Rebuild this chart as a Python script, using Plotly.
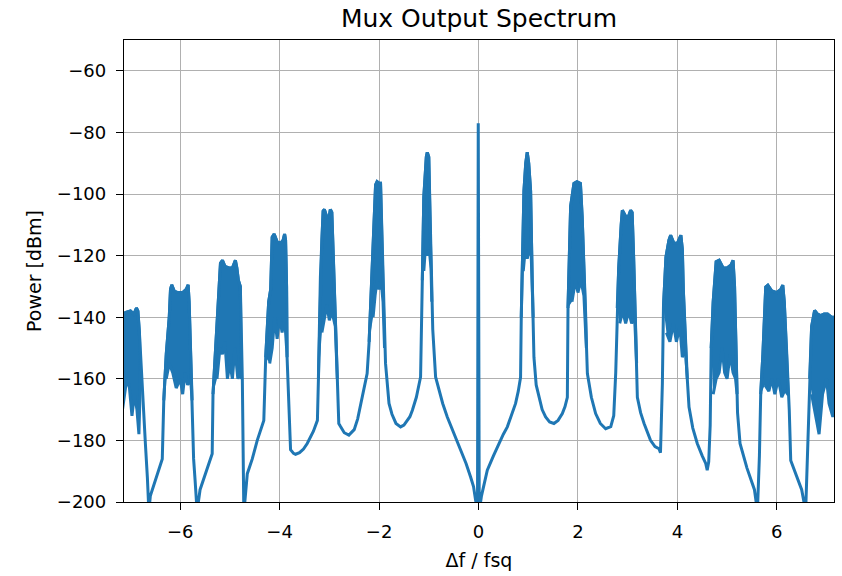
import plotly.graph_objects as go

# ---- Data ----
# Outline of the spectrum (upper envelope through the noisy lobes), left to right
spec_f = [
    -7.16, -7.10, -7.00, -6.93, -6.88, -6.85, -6.82, -6.78, -6.74, -6.70, -6.66, -6.63,
    -6.60, -6.50, -6.40, -6.36, -6.33, -6.28, -6.22, -6.195, -6.17, -6.12, -6.05, -5.95, -5.88, -5.84,
    -5.82, -5.79, -5.76, -5.73, -5.70, -5.66,
    -5.60, -5.50, -5.40, -5.356, -5.34, -5.29, -5.256, -5.22, -5.19, -5.15, -5.10, -5.02, -4.95, -4.89,
    -4.86, -4.83, -4.79, -4.75, -4.72, -4.70,
    -4.65, -4.55, -4.45, -4.318, -4.28, -4.22, -4.18, -4.15, -4.11, -4.05, -3.98, -3.93, -3.90, -3.88,
    -3.86, -3.85, -3.80, -3.78,
    -3.72, -3.68, -3.60, -3.52, -3.445, -3.32, -3.24, -3.22, -3.18, -3.15, -3.125, -3.10, -3.05, -3.00, -2.98, -2.95,
    -2.92, -2.875, -2.84, -2.81,
    -2.775, -2.70, -2.607, -2.50, -2.43, -2.37, -2.30, -2.24, -2.20, -2.14, -2.10, -2.07, -2.04, -2.00, -1.97,
    -1.95, -1.92, -1.87, -1.80,
    -1.74, -1.66, -1.567, -1.50, -1.45, -1.38, -1.33, -1.25, -1.165, -1.13, -1.10, -1.05, -1.03, -1.00,
    -0.98, -0.964, -0.92, -0.863,
    -0.80, -0.72, -0.628, -0.50, -0.36, -0.25, -0.159, -0.10, -0.058, -0.035,
    -0.02, -0.005,
    0.015, 0.06, 0.177, 0.30, 0.378, 0.50, 0.58, 0.70, 0.746, 0.80, 0.846,
    0.86, 0.88, 0.914, 0.95, 0.98, 1.01, 1.048, 1.08, 1.115,
    1.16, 1.215, 1.28, 1.35, 1.43, 1.517, 1.60, 1.686, 1.74, 1.787,
    1.80, 1.853, 1.92, 1.98, 2.05, 2.085, 2.155, 2.19,
    2.27, 2.356, 2.45, 2.557, 2.66, 2.72,
    2.76, 2.79, 2.82, 2.87, 2.893, 2.95, 3.00, 3.06, 3.09, 3.12, 3.16, 3.195,
    3.26, 3.33, 3.46, 3.55, 3.63, 3.66,
    3.698, 3.72, 3.77, 3.83, 3.865, 3.93, 4.00, 4.07, 4.10, 4.12, 4.18, 4.234,
    4.31, 4.40, 4.50, 4.57, 4.60, 4.63,
    4.66, 4.68, 4.72, 4.78, 4.84, 4.92, 5.00, 5.08, 5.12, 5.15, 5.18, 5.21, 5.26,
    5.40, 5.55, 5.61,
    5.65, 5.676, 5.72, 5.777, 5.82, 5.90, 6.00, 6.08, 6.12, 6.15, 6.20, 6.25, 6.28,
    6.40, 6.50, 6.58,
    6.62, 6.66, 6.70, 6.76, 6.82, 6.88, 6.95, 7.02, 7.10, 7.18,
]
spec_p = [
    -140, -138.5, -138, -139, -137, -138, -145, -158, -172, -181, -192, -203,
    -198, -193, -188, -186, -167, -152, -140, -131, -129.5, -131.5, -132, -132, -131, -129.5,
    -135, -152, -167, -186, -193, -203,
    -196, -191, -186.5, -184.3, -165, -150, -143, -130, -122.5, -121.5, -123.5, -124, -124, -121.5,
    -124, -128, -130, -160, -203, -200,
    -190.8, -186, -180, -173.5, -153, -135, -131, -114, -113, -115.5, -116, -115, -113, -115,
    -130, -153, -172, -183,
    -184.2, -184.5, -184, -182.8, -181, -177, -173.5, -160, -127, -115, -105.5, -105, -107.5, -107, -105, -106,
    -120, -142, -160, -174.5,
    -175.5, -177.5, -178.3, -176.5, -173, -168, -163, -158.3, -148, -125, -108, -97, -96, -96.5, -96.5,
    -108, -125, -155, -168,
    -171.5, -174.5, -175.6, -175, -174, -172.3, -170.2, -166, -159.4, -128, -101, -88, -86.5, -88,
    -100, -117, -144, -159.4,
    -163.5, -168, -172.4, -177.5, -183.2, -187.5, -191.9, -195, -199.4, -203,
    -203, -77,
    -203, -198, -189.7, -185, -182.1, -178, -175.6, -170.5, -168, -164, -159.5,
    -140, -128, -99, -90, -86.4, -90, -99, -128, -153,
    -162, -166, -170, -172.4, -174, -174.5, -173.5, -171.3, -169, -166,
    -137, -104, -96.6, -96, -96.6, -107.4, -139, -158.3,
    -166, -171.3, -174.5, -176.2, -175.5, -172,
    -158, -137, -124, -110, -105.3, -107, -108, -105.3, -106, -120.5, -144.3, -166,
    -171, -174.5, -180, -182, -182.7, -184,
    -161.6, -136.7, -120.5, -115, -113.4, -116, -116, -113.4, -118, -131.3, -155, -169.2,
    -176, -181, -185, -187.5, -189.7, -187,
    -175, -150, -135, -122, -121.5, -124, -124, -123, -121.5, -130, -150, -171, -181,
    -189, -196, -203,
    -185, -165, -152, -130.2, -129.6, -131.5, -132, -131, -129.6, -135, -152, -170, -186.5,
    -192, -196, -203,
    -182, -160, -143, -137.8, -139, -139.5, -139, -139, -140, -140,
]

# Dense noisy cores of the lobes (closed outlines, lobes separated by None)
core_f = [
    -7.16, -7.10, -7.00, -6.93, -6.88, -6.85, -6.82, -6.80, -6.83, -6.87, -6.92, -6.97, -7.02, -7.06, -7.10, -7.16, None,
    -6.33, -6.28, -6.22, -6.195, -6.17, -6.12, -6.05, -5.95, -5.88, -5.84, -5.82, -5.79, -5.76,
    -5.79, -5.85, -5.90, -5.95, -6.00, -6.08, -6.15, -6.22, -6.28, None,
    -5.34, -5.29, -5.256, -5.22, -5.19, -5.15, -5.10, -5.02, -4.95, -4.89, -4.86, -4.83, -4.79, -4.77,
    -4.80, -4.84, -4.90, -4.95, -5.00, -5.05, -5.10, -5.15, -5.20, -5.26, None,
    -4.28, -4.22, -4.18, -4.15, -4.11, -4.05, -3.98, -3.93, -3.90, -3.88, -3.86, -3.85,
    -3.86, -3.90, -3.95, -4.00, -4.05, -4.10, -4.15, -4.20, None,
    -3.22, -3.18, -3.15, -3.125, -3.10, -3.05, -3.00, -2.98, -2.95, -2.92, -2.875, -2.84,
    -2.88, -2.95, -3.00, -3.05, -3.10, -3.15, None,
    -2.20, -2.14, -2.10, -2.07, -2.04, -2.00, -1.97, -1.95, -1.92, -1.89,
    -1.92, -1.96, -2.00, -2.04, -2.08, -2.12, None,
    -1.13, -1.10, -1.05, -1.03, -1.00, -0.98, -0.964, -0.94,
    -0.95, -0.99, -1.03, -1.07, -1.10, None,
    0.86, 0.88, 0.914, 0.95, 0.98, 1.01, 1.048, 1.08, 1.10,
    1.06, 1.02, 0.98, 0.94, 0.90, None,
    1.80, 1.853, 1.92, 1.98, 2.05, 2.085, 2.155, 2.17,
    2.12, 2.06, 2.00, 1.95, 1.88, None,
    2.79, 2.82, 2.87, 2.893, 2.95, 3.00, 3.06, 3.09, 3.12, 3.16, 3.18,
    3.14, 3.08, 3.02, 2.96, 2.90, 2.84, None,
    3.72, 3.77, 3.83, 3.865, 3.93, 4.00, 4.07, 4.10, 4.12, 4.18, 4.20,
    4.16, 4.10, 4.05, 3.98, 3.92, 3.85, 3.78, None,
    4.68, 4.72, 4.78, 4.84, 4.92, 5.00, 5.08, 5.12, 5.15, 5.18, 5.20,
    5.17, 5.12, 5.06, 5.00, 4.95, 4.90, 4.84, 4.78, 4.72, None,
    5.676, 5.72, 5.777, 5.82, 5.90, 6.00, 6.08, 6.12, 6.15, 6.20, 6.23,
    6.22, 6.16, 6.10, 6.03, 5.96, 5.90, 5.84, 5.76, None,
    6.66, 6.70, 6.76, 6.82, 6.88, 6.95, 7.02, 7.10, 7.18,
    7.18, 7.12, 7.05, 7.00, 6.92, 6.85, 6.78, 6.70,
]
core_p = [
    -140, -138.5, -138, -139, -137, -138, -145, -160, -178, -170, -165, -172, -163, -160, -163, -170, None,
    -167, -152, -140, -131, -129.5, -131.5, -132, -132, -131, -129.5, -135, -152, -167,
    -160, -162, -158, -165, -160, -163, -158, -155, -160, None,
    -165, -150, -143, -130, -122.5, -121.5, -123.5, -124, -124, -121.5, -124, -128, -130, -160,
    -158, -160, -150, -160, -155, -160, -148, -152, -150, -160, None,
    -153, -135, -131, -114, -113, -115.5, -116, -115, -113, -115, -130, -153,
    -150, -140, -145, -140, -147, -140, -150, -155, None,
    -160, -127, -115, -105.5, -105, -107.5, -107, -105, -106, -120, -142, -160,
    -143, -138, -141, -136, -140, -145, None,
    -148, -125, -108, -97, -96, -96.5, -96.5, -108, -125, -150,
    -135, -128, -131, -128, -133, -140, None,
    -128, -101, -88, -86.5, -88, -100, -117, -135,
    -125, -118, -120, -118, -125, None,
    -140, -128, -99, -90, -86.4, -90, -99, -128, -140,
    -120, -118, -121, -118, -125, None,
    -137, -104, -96.6, -96, -96.6, -107.4, -139, -150,
    -133, -128, -132, -128, -135, None,
    -137, -124, -110, -105.3, -107, -108, -105.3, -106, -120.5, -144.3, -155,
    -140, -142, -138, -142, -138, -142, None,
    -136.7, -120.5, -115, -113.4, -116, -116, -113.4, -118, -131.3, -155, -160,
    -150, -153, -143, -148, -142, -148, -145, None,
    -150, -135, -122, -121.5, -124, -124, -123, -121.5, -130, -150, -165,
    -160, -158, -152, -160, -158, -150, -158, -160, -165, None,
    -165, -152, -130.2, -129.6, -131.5, -132, -131, -129.6, -135, -152, -165,
    -165, -163.7, -166, -160, -165, -160, -164, -162, None,
    -160, -143, -137.8, -139, -139.5, -139, -139, -140, -140,
    -172, -172, -168, -160, -165, -178, -172, -165,
]

x_ticks = [-6, -4, -2, 0, 2, 4, 6]
y_ticks = [-200, -180, -160, -140, -120, -100, -80, -60]

BLUE = "#1f77b4"
FONT = "DejaVu Sans"


def minus(v):
    return str(v).replace("-", "\u2212")


fig = go.Figure()
fig.add_trace(go.Scatter(
    x=core_f, y=core_p, mode="lines", fill="toself", fillcolor=BLUE,
    line=dict(color=BLUE, width=3), hoverinfo="skip", showlegend=False,
))
fig.add_trace(go.Scatter(
    x=spec_f, y=spec_p, mode="lines",
    line=dict(color=BLUE, width=3), showlegend=False,
))

axis_common = dict(
    showline=True, mirror=True, linecolor="black", linewidth=1.3,
    ticks="outside", ticklen=7, tickwidth=1.3, tickcolor="black",
    showgrid=True, gridcolor="#b0b0b0", gridwidth=1.3,
    zeroline=False, tickfont=dict(family=FONT, size=18, color="black"),
)

fig.update_xaxes(
    range=[-7.13, 7.15], tickvals=x_ticks, ticktext=[minus(v) for v in x_ticks],
    title=dict(text="\u0394f / fsq", font=dict(family=FONT, size=19, color="black"), standoff=12),
    ticklabelstandoff=6, **axis_common,
)
fig.update_yaxes(
    range=[-200, -50], tickvals=y_ticks, ticktext=[minus(v) for v in y_ticks],
    title=dict(text="Power [dBm]", font=dict(family=FONT, size=19, color="black"), standoff=10),
    ticklabelstandoff=6, **axis_common,
)

fig.update_layout(
    width=842, height=576,
    margin=dict(l=124, r=8, t=40, b=74),
    paper_bgcolor="white", plot_bgcolor="white",
    title=dict(text="Mux Output Spectrum", x=0.5, xref="paper", xanchor="center",
               y=1 - 18 / 576, yref="container", yanchor="middle",
               font=dict(family=FONT, size=25, color="black")),
    font=dict(family=FONT, color="black"),
)

fig.write_html("out.html")
